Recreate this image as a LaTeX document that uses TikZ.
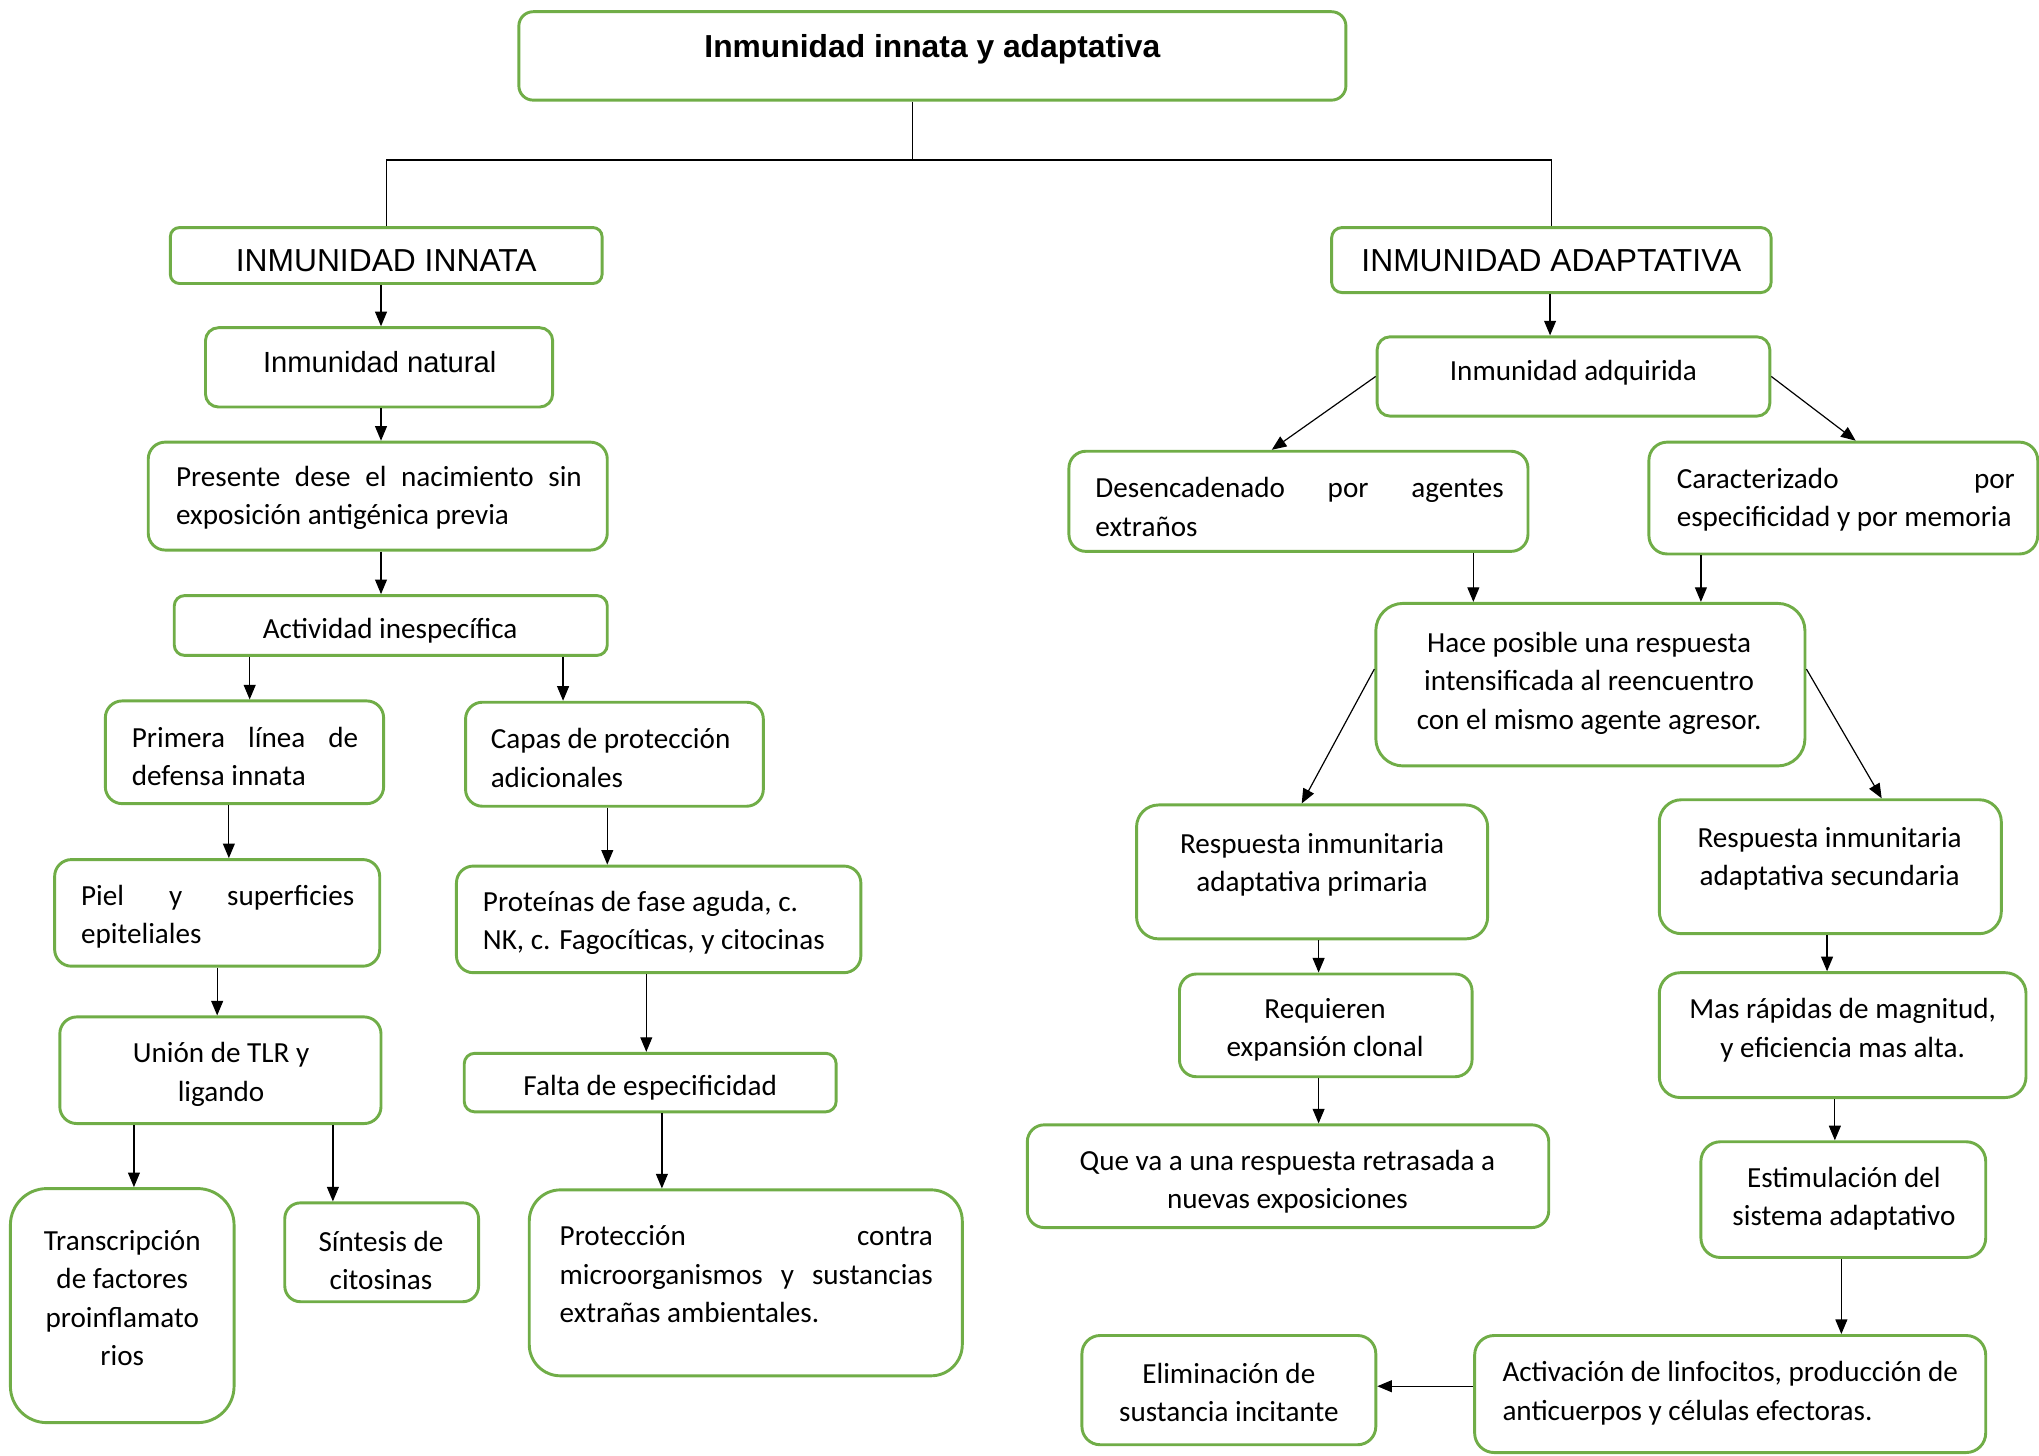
\documentclass[tikz,border=0pt]{standalone}
\usepackage{fontspec}
\setmainfont{Carlito}
\newfontfamily\arialf{Liberation Sans}
\usetikzlibrary{arrows.meta,calc}
\newlength\pxu
\setlength\pxu{0.4907pt}
\definecolor{boxgreen}{HTML}{70AD47}
\newcommand\gbox[6]{\node[box,rounded corners={#6*\pxu},minimum width={(#4-#2)*\pxu},minimum height={(#5-#3)*\pxu}] (#1) at ({(#2+#4)/2},{(#3+#5)/2}) {};}
\newcommand\jline[2]{\makebox[#1\pxu][s]{#2}}
\newcommand\vconn[3]{\draw[arr] let \p1=(#1.south), \p2=(#2.north) in (#3*\pxu,\y1) -- (#3*\pxu,\y2);}
\begin{document}
\begin{tikzpicture}[x=0.4907pt, y=-0.4907pt,
  box/.style={draw=boxgreen, line width=1.1pt, fill=white, inner sep=0pt},
  arr/.style={-{Triangle[length=5.5pt,width=4.5pt]}, line width=0.45pt},
  tree/.style={line width=0.45pt},
  txt/.style={inner sep=0pt, yshift=-0.9pt, font=\fontsize{11}{14.5}\selectfont},
  hdr/.style={inner sep=0pt, yshift=-0.6pt, font=\arialf\fontsize{12}{14}\selectfont}]
\useasboundingbox (0,0) rectangle (1568,1119);
% boxes
\gbox{title}{399}{9}{1035}{77}{11}
\gbox{innata}{131}{175}{463}{218}{7}
\gbox{adapt}{1024}{175}{1362}{225}{8}
\gbox{natural}{158}{252}{425}{313}{10}
\gbox{presente}{114}{340}{467}{423}{13}
\gbox{activ}{134}{458}{467}{504}{8}
\gbox{primera}{81}{539}{295}{618}{13}
\gbox{capas}{358}{540}{587}{620}{13}
\gbox{piel}{42}{661}{292}{743}{13}
\gbox{prote}{351}{666}{662}{748}{13}
\gbox{union}{46}{782}{293}{864}{13}
\gbox{falta}{357}{810}{643}{855}{8}
\gbox{transc}{8}{914}{180}{1094}{28}
\gbox{sint}{219}{925}{368}{1001}{12}
\gbox{protec}{407}{915}{740}{1058}{24}
\gbox{adq}{1059}{259}{1361}{320}{10}
\gbox{desen}{822}{347}{1175}{424}{13}
\gbox{carac}{1268}{340}{1567}{426}{14}
\gbox{hace}{1058}{464}{1388}{589}{21}
\gbox{rprim}{874}{619}{1144}{722}{17}
\gbox{rsec}{1276}{615}{1539}{718}{17}
\gbox{requ}{907}{749}{1132}{828}{13}
\gbox{que}{790}{865}{1191}{944}{13}
\gbox{mas}{1276}{748}{1558}{844}{16}
\gbox{estim}{1308}{878}{1527}{967}{15}
\gbox{activa}{1134}{1027}{1527}{1117}{15}
\gbox{elim}{832}{1027}{1058}{1111}{14}
% texts
\node[hdr, yshift=-0.4pt, font=\arialf\bfseries\fontsize{12}{14}\selectfont] (ttitle) at (717,36) {Inmunidad innata y adaptativa};
\node[hdr] (tinnata) at (297,199) {INMUNIDAD INNATA};
\node[hdr] (tadapt) at (1193,199) {INMUNIDAD ADAPTATIVA};
\node[hdr, font=\arialf\fontsize{11}{14}\selectfont] (tnatural) at (292,277) {Inmunidad natural};
\node[txt, anchor=west, align=left] (tpresente) at (135,381) {\jline{312}{Presente dese el nacimiento sin}\\exposición antigénica previa};
\node[txt] (tactiv) at (300,483) {Actividad inespecífica};
\node[txt, anchor=west, align=left] (tprimera) at (101,580) {\jline{174}{Primera línea de}\\defensa innata};
\node[txt, anchor=west, align=left] (tcapas) at (377,581) {Capas de protección\\adicionales};
\node[txt, anchor=west, align=left] (tpiel) at (62,703) {\jline{210}{Piel y superficies}\\epiteliales};
\node[txt, anchor=west, align=left] (tprote) at (371,708) {Proteínas de fase aguda, c.\\NK, c. Fagocíticas, y citocinas};
\node[txt, align=center] (tunion) at (170,824.5) {Unión de TLR y\\ligando};
\node[txt] (tfalta) at (500,835) {Falta de especificidad};
\node[txt, align=center] (ttransc) at (94,996.5) {Transcripción\\de factores\\proinflamato\\rios};
\node[txt, align=center] (tsint) at (293,967.5) {Síntesis de\\citosinas};
\node[txt, anchor=west, align=left] (tprotec) at (430,978) {\jline{287}{Protección contra}\\\jline{287}{microorganismos y sustancias}\\extrañas ambientales.};
\node[txt] (tadq) at (1210,285) {Inmunidad adquirida};
\node[txt, anchor=west, align=left] (tdesen) at (842,388) {\jline{314}{Desencadenado por agentes}\\extraños};
\node[txt, anchor=west, align=left] (tcarac) at (1289,382.5) {\jline{260}{Caracterizado por}\\especificidad y por memoria};
\node[txt, align=center] (thace) at (1222,523.5) {Hace posible una respuesta\\intensificada al reencuentro\\con el mismo agente agresor.};
\node[txt, align=center] (trprim) at (1009,663) {Respuesta inmunitaria\\adaptativa primaria};
\node[txt, align=center] (trsec) at (1407,658.5) {Respuesta inmunitaria\\adaptativa secundaria};
\node[txt, align=center] (trequ) at (1019,790) {Requieren\\expansión clonal};
\node[txt, align=center] (tque) at (990,907) {Que va a una respuesta retrasada a\\nuevas exposiciones};
\node[txt, align=center] (tmas) at (1417,790.5) {Mas rápidas de magnitud,\\y eficiencia mas alta.};
\node[txt, align=center] (testim) at (1418,920) {Estimulación del\\sistema adaptativo};
\node[txt, anchor=west, align=left] (tactiva) at (1155,1069.5) {Activación de linfocitos, producción de\\anticuerpos y células efectoras.};
\node[txt, align=center] (telim) at (945,1069) {Eliminación de\\sustancia incitante};
% tree connector
\coordinate (junction) at (702,123);
\draw[tree] let \p1=(title.south), \p2=(junction) in (\x2,\y1) -- (junction);
\draw[tree] (innata.north) |- (junction) -| (adapt.north);
% vertical arrows
\vconn{innata}{natural}{293}
\vconn{natural}{presente}{293}
\vconn{presente}{activ}{293}
\vconn{activ}{primera}{192}
\vconn{activ}{capas}{433}
\vconn{primera}{piel}{176}
\vconn{capas}{prote}{467}
\vconn{piel}{union}{167}
\vconn{prote}{falta}{497}
\vconn{union}{transc}{103}
\vconn{union}{sint}{256}
\vconn{falta}{protec}{509}
\vconn{adapt}{adq}{1192}
\vconn{desen}{hace}{1133}
\vconn{carac}{hace}{1308}
\vconn{rprim}{requ}{1014}
\vconn{requ}{que}{1014}
\vconn{rsec}{mas}{1405}
\vconn{mas}{estim}{1411}
\vconn{estim}{activa}{1416}
% diagonal arrows
\draw[arr] (adq.west) -- ([xshift=-20.5*\pxu]desen.north);
\draw[arr] (adq.east) -- ([xshift=9.5*\pxu]carac.north);
\draw[arr] ([yshift=12*\pxu]hace.west) -- ([xshift=-8*\pxu]rprim.north);
\draw[arr] ([yshift=12*\pxu]hace.east) -- ([xshift=39.5*\pxu]rsec.north);
\draw[arr] ([yshift=6*\pxu]activa.west) -- ([yshift=6*\pxu]activa.west -| elim.east);
\end{tikzpicture}
\end{document}
